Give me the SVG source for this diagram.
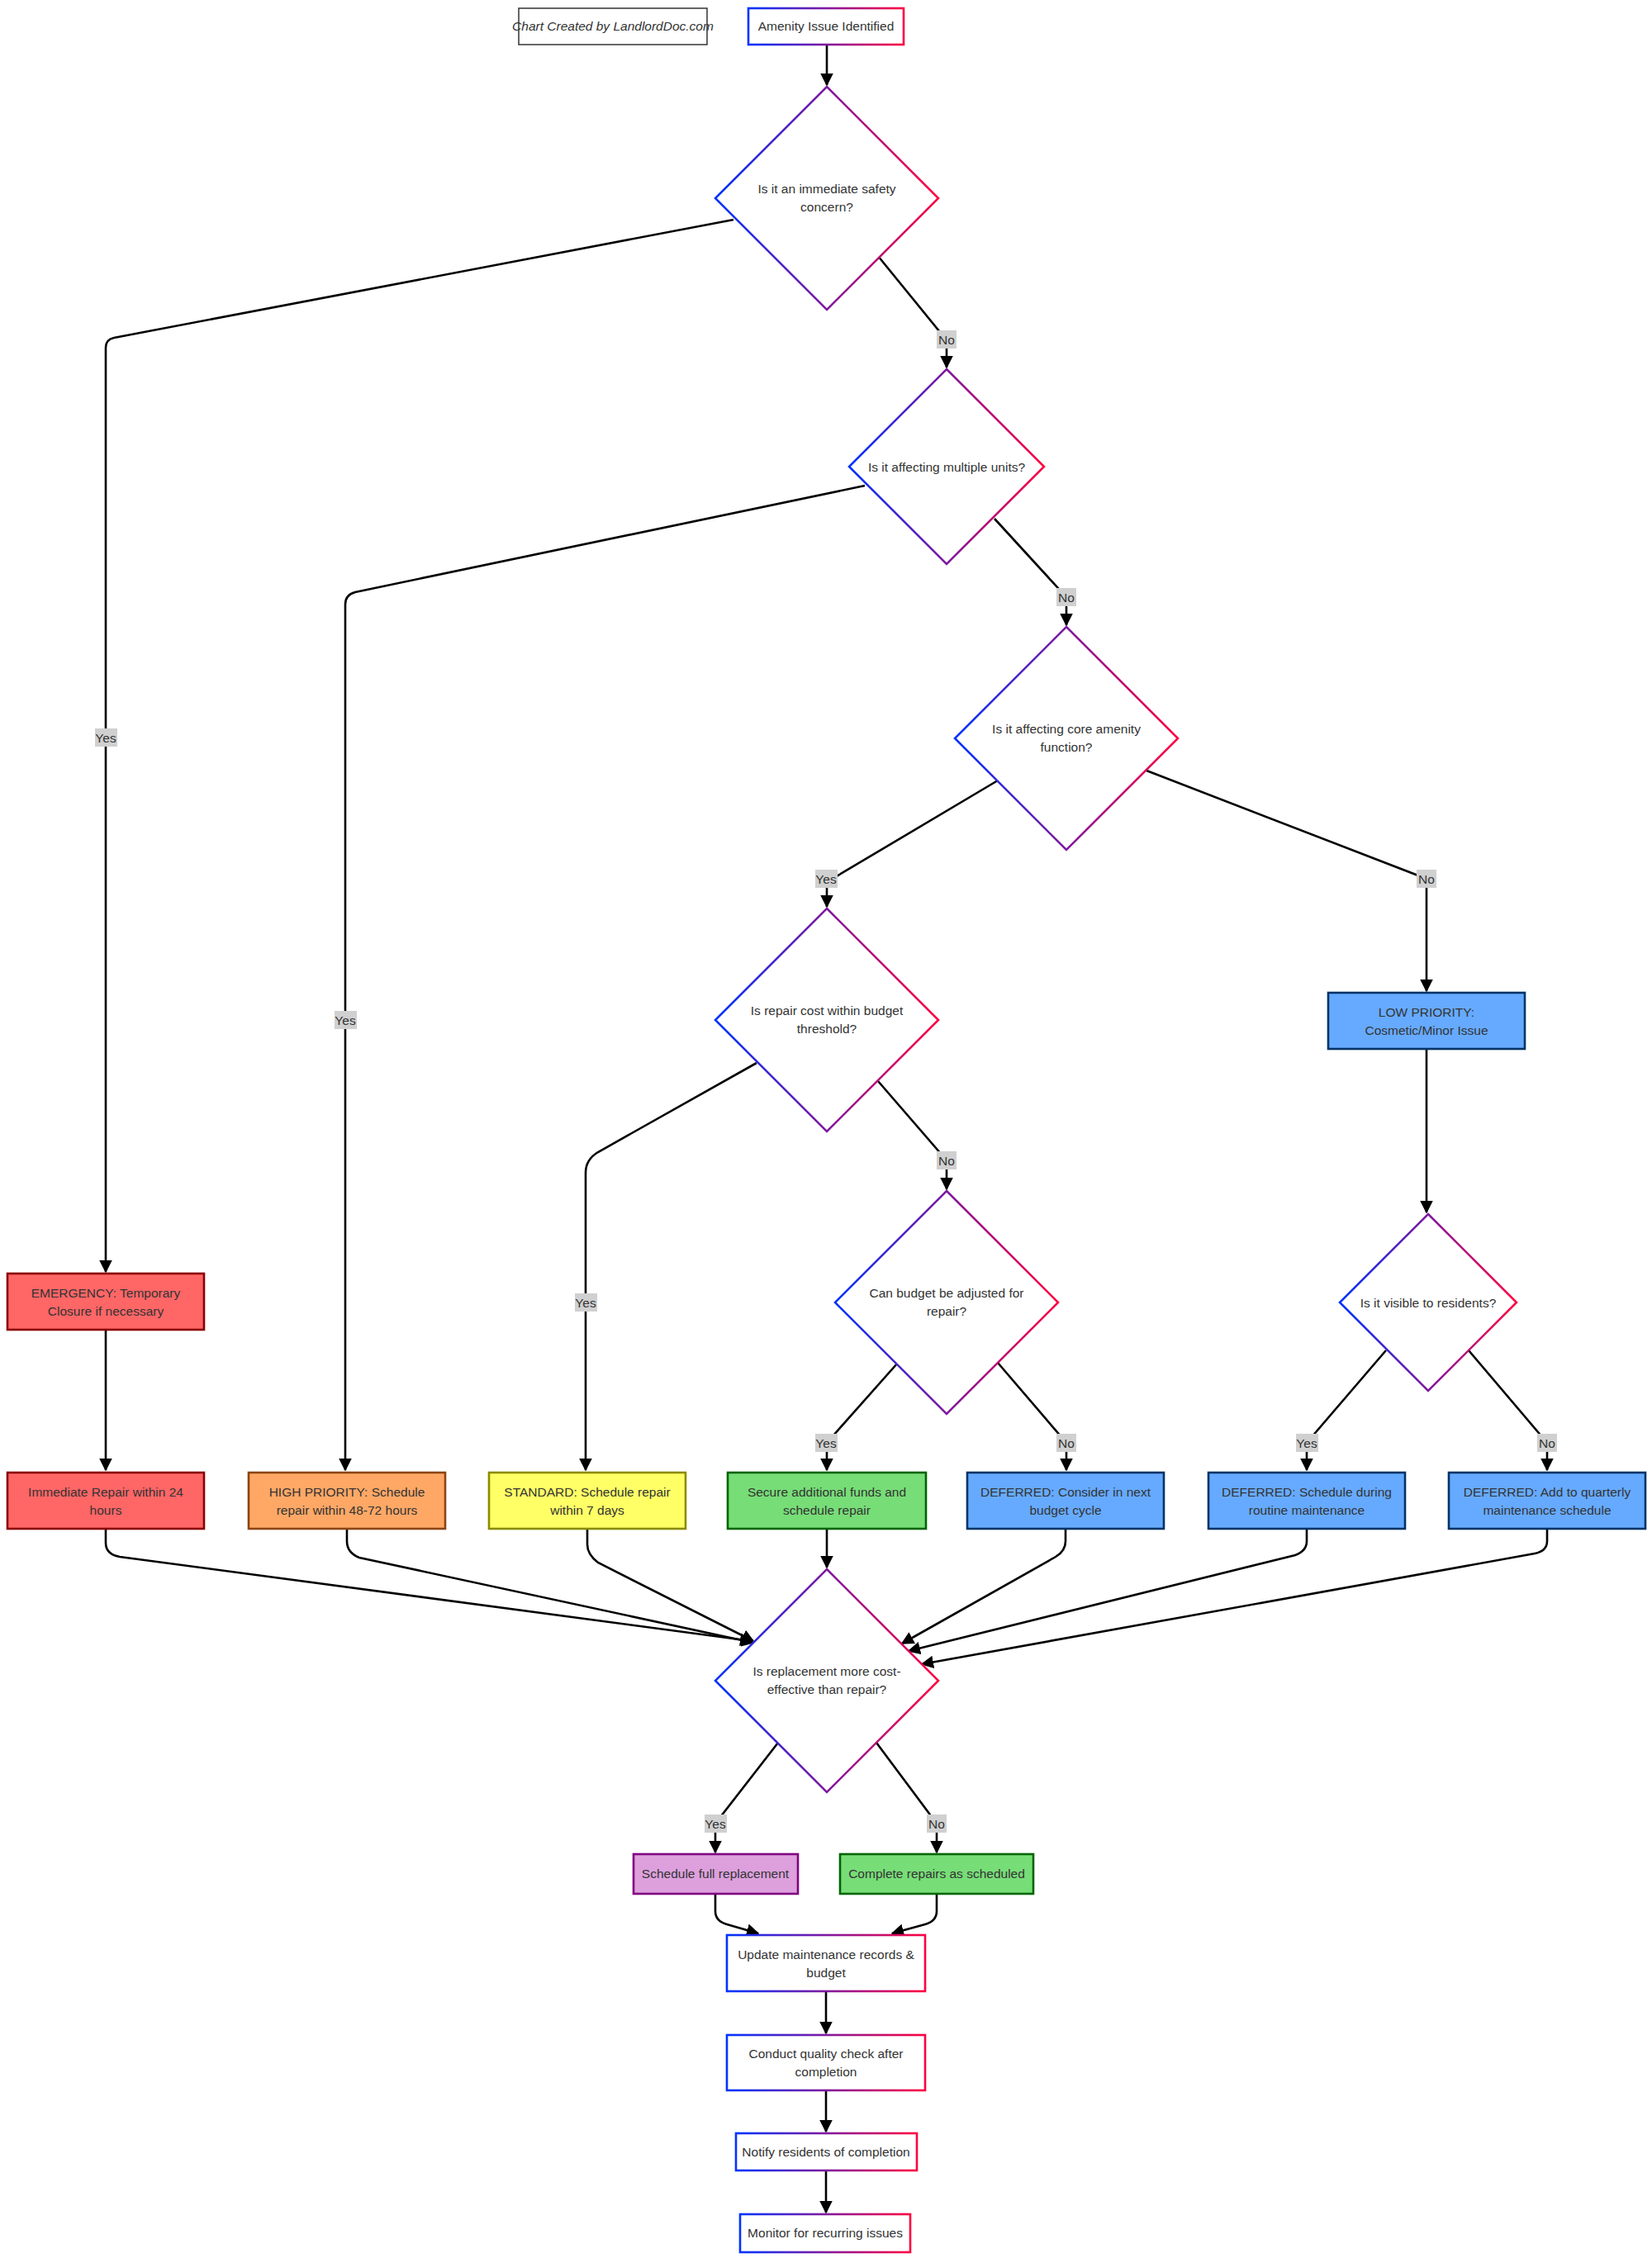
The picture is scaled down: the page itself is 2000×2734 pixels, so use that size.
<svg xmlns="http://www.w3.org/2000/svg" width="2000" height="2734" viewBox="0 0 2000 2734">
<defs>
<linearGradient id="g" x1="0" y1="0" x2="1" y2="0"><stop offset="0" stop-color="#0033ff"/><stop offset="1" stop-color="#ff0040"/></linearGradient>
<marker id="a" viewBox="0 0 10 10" refX="9" refY="5" markerWidth="6" markerHeight="6" orient="auto-start-reverse"><path d="M0,0L10,5L0,10z" fill="#000"/></marker>
</defs>
<style>
text{font-family:"Liberation Sans",Arial,sans-serif;font-size:15.5px;fill:#333;text-anchor:middle}
.gr{fill:#fff;stroke:url(#g);stroke-width:2.6}
.e{fill:none;stroke:#000;stroke-width:2.6;marker-end:url(#a)}
.lb{fill:#d0d0d0}
.red{fill:#ff6666;stroke:#8b0000;stroke-width:2.6}
.or{fill:#ffa866;stroke:#8b4513;stroke-width:2.6}
.ye{fill:#ffff66;stroke:#8b8b00;stroke-width:2.6}
.gn{fill:#77dd77;stroke:#006400;stroke-width:2.6}
.bl{fill:#66aaff;stroke:#003366;stroke-width:2.6}
.pu{fill:#dda0dd;stroke:#800080;stroke-width:2.6}
</style>
<rect width="2000" height="2734" fill="#fff"/>
<g id="edges">
<path class="e" d="M1001,54V103"/>
<path class="e" d="M888,266L138,409Q128,411 128,421V1540"/>
<path class="e" d="M1063,310L1146,412V445"/>
<path class="e" d="M1047,588L430,717Q418,720 418,732V1780"/>
<path class="e" d="M1204,628L1291,723V757"/>
<path class="e" d="M1208,945L1001,1068V1098"/>
<path class="e" d="M1388,933L1727,1064V1200"/>
<path class="e" d="M916,1287L724,1395Q709,1404 709,1420V1780"/>
<path class="e" d="M1063,1309L1146,1405V1440"/>
<path class="e" d="M1727,1270V1468"/>
<path class="e" d="M1087,1650L1001,1747V1780"/>
<path class="e" d="M1208,1650L1291,1747V1780"/>
<path class="e" d="M1678,1635L1582,1747V1780"/>
<path class="e" d="M1778,1635L1873,1747V1780"/>
<path class="e" d="M128,1610V1780"/>
<path class="e" d="M128,1851V1868Q128,1882 145,1885L910,1987"/>
<path class="e" d="M420,1851V1866Q420,1880 435,1886L912,1989"/>
<path class="e" d="M711,1851V1870Q711,1882 724,1892L912,1987"/>
<path class="e" d="M1001,1851V1898"/>
<path class="e" d="M1290,1851V1866Q1290,1878 1278,1885L1092,1990"/>
<path class="e" d="M1582,1851V1866Q1582,1878 1568,1883L1100,1999"/>
<path class="e" d="M1873,1851V1866Q1873,1878 1858,1881L1116,2015"/>
<path class="e" d="M942,2110L866,2208V2243"/>
<path class="e" d="M1061,2110L1134,2208V2243"/>
<path class="e" d="M866,2293V2314Q866,2326 880,2330L918,2341"/>
<path class="e" d="M1134,2293V2314Q1134,2326 1120,2330L1080,2341"/>
<path class="e" d="M1000,2411V2462"/>
<path class="e" d="M1000,2531V2581"/>
<path class="e" d="M1000,2628V2679"/>
<g id="labels">
<rect class="lb" x="1134" y="400" width="24" height="22"/><text x="1146" y="417">No</text>
<rect class="lb" x="1279" y="712" width="24" height="22"/><text x="1291" y="729">No</text>
<rect class="lb" x="1715" y="1053" width="24" height="22"/><text x="1727" y="1070">No</text>
<rect class="lb" x="1134" y="1394" width="24" height="22"/><text x="1146" y="1411">No</text>
<rect class="lb" x="1279" y="1736" width="24" height="22"/><text x="1291" y="1753">No</text>
<rect class="lb" x="1861" y="1736" width="24" height="22"/><text x="1873" y="1753">No</text>
<rect class="lb" x="1122" y="2197" width="24" height="22"/><text x="1134" y="2214">No</text>
<rect class="lb" x="115" y="882" width="27" height="22"/><text x="128" y="899">Yes</text>
<rect class="lb" x="405" y="1224" width="27" height="22"/><text x="418" y="1241">Yes</text>
<rect class="lb" x="696" y="1566" width="27" height="22"/><text x="709" y="1583">Yes</text>
<rect class="lb" x="987" y="1053" width="27" height="22"/><text x="1000" y="1070">Yes</text>
<rect class="lb" x="987" y="1736" width="27" height="22"/><text x="1000" y="1753">Yes</text>
<rect class="lb" x="1569" y="1736" width="27" height="22"/><text x="1582" y="1753">Yes</text>
<rect class="lb" x="853" y="2197" width="27" height="22"/><text x="866" y="2214">Yes</text>
</g>
</g>
<g id="credit"><rect x="628" y="10" width="228" height="44" fill="#fff" stroke="#333" stroke-width="1.5"/><text x="742" y="37" font-style="italic" font-size="14">Chart Created by LandlordDoc.com</text></g>
<g id="start"><rect class="gr" x="906" y="10" width="188" height="44"/><text x="1000" y="37">Amenity Issue Identified</text></g>
<g id="d1"><path class="gr" d="M1001,105L1136,240L1001,375L866,240z"/><text x="1001" y="234">Is it an immediate safety</text><text x="1001" y="256">concern?</text></g>
<g id="d2"><path class="gr" d="M1146,447L1264,565L1146,683L1028,565z"/><text x="1146" y="571">Is it affecting multiple units?</text></g>
<g id="d3"><path class="gr" d="M1291,759L1426,894L1291,1029L1156,894z"/><text x="1291" y="888">Is it affecting core amenity</text><text x="1291" y="910">function?</text></g>
<g id="d4"><path class="gr" d="M1001,1100L1136,1235L1001,1370L866,1235z"/><text x="1001" y="1229">Is repair cost within budget</text><text x="1001" y="1251">threshold?</text></g>
<g id="low"><rect class="bl" x="1608" y="1202" width="238" height="68"/><text x="1727" y="1231">LOW PRIORITY:</text><text x="1727" y="1253">Cosmetic/Minor Issue</text></g>
<g id="d5"><path class="gr" d="M1146,1442L1281,1577L1146,1712L1011,1577z"/><text x="1146" y="1571">Can budget be adjusted for</text><text x="1146" y="1593">repair?</text></g>
<g id="d6"><path class="gr" d="M1729,1470L1836,1577L1729,1684L1622,1577z"/><text x="1729" y="1583">Is it visible to residents?</text></g>
<g id="emerg"><rect class="red" x="9" y="1542" width="238" height="68"/><text x="128" y="1571">EMERGENCY: Temporary</text><text x="128" y="1593">Closure if necessary</text></g>
<g id="imm"><rect class="red" x="9" y="1783" width="238" height="68"/><text x="128" y="1812">Immediate Repair within 24</text><text x="128" y="1834">hours</text></g>
<g id="high"><rect class="or" x="301" y="1783" width="238" height="68"/><text x="420" y="1812">HIGH PRIORITY: Schedule</text><text x="420" y="1834">repair within 48-72 hours</text></g>
<g id="std"><rect class="ye" x="592" y="1783" width="238" height="68"/><text x="711" y="1812">STANDARD: Schedule repair</text><text x="711" y="1834">within 7 days</text></g>
<g id="secure"><rect class="gn" x="881" y="1783" width="240" height="68"/><text x="1001" y="1812">Secure additional funds and</text><text x="1001" y="1834">schedule repair</text></g>
<g id="defnext"><rect class="bl" x="1171" y="1783" width="238" height="68"/><text x="1290" y="1812">DEFERRED: Consider in next</text><text x="1290" y="1834">budget cycle</text></g>
<g id="defroutine"><rect class="bl" x="1463" y="1783" width="238" height="68"/><text x="1582" y="1812">DEFERRED: Schedule during</text><text x="1582" y="1834">routine maintenance</text></g>
<g id="defq"><rect class="bl" x="1754" y="1783" width="238" height="68"/><text x="1873" y="1812">DEFERRED: Add to quarterly</text><text x="1873" y="1834">maintenance schedule</text></g>
<g id="d7"><path class="gr" d="M1001,1900L1136,2035L1001,2170L866,2035z"/><text x="1001" y="2029">Is replacement more cost-</text><text x="1001" y="2051">effective than repair?</text></g>
<g id="repl"><rect class="pu" x="767" y="2245" width="199" height="48"/><text x="866" y="2274">Schedule full replacement</text></g>
<g id="complete"><rect class="gn" x="1017" y="2245" width="234" height="48"/><text x="1134" y="2274">Complete repairs as scheduled</text></g>
<g id="update"><rect class="gr" x="880" y="2343" width="240" height="68"/><text x="1000" y="2372">Update maintenance records &amp;</text><text x="1000" y="2394">budget</text></g>
<g id="conduct"><rect class="gr" x="880" y="2464" width="240" height="67"/><text x="1000" y="2492">Conduct quality check after</text><text x="1000" y="2514">completion</text></g>
<g id="notify"><rect class="gr" x="891" y="2583" width="219" height="45"/><text x="1000" y="2611">Notify residents of completion</text></g>
<g id="monitor"><rect class="gr" x="896" y="2681" width="206" height="46"/><text x="999" y="2709">Monitor for recurring issues</text></g>
</svg>
